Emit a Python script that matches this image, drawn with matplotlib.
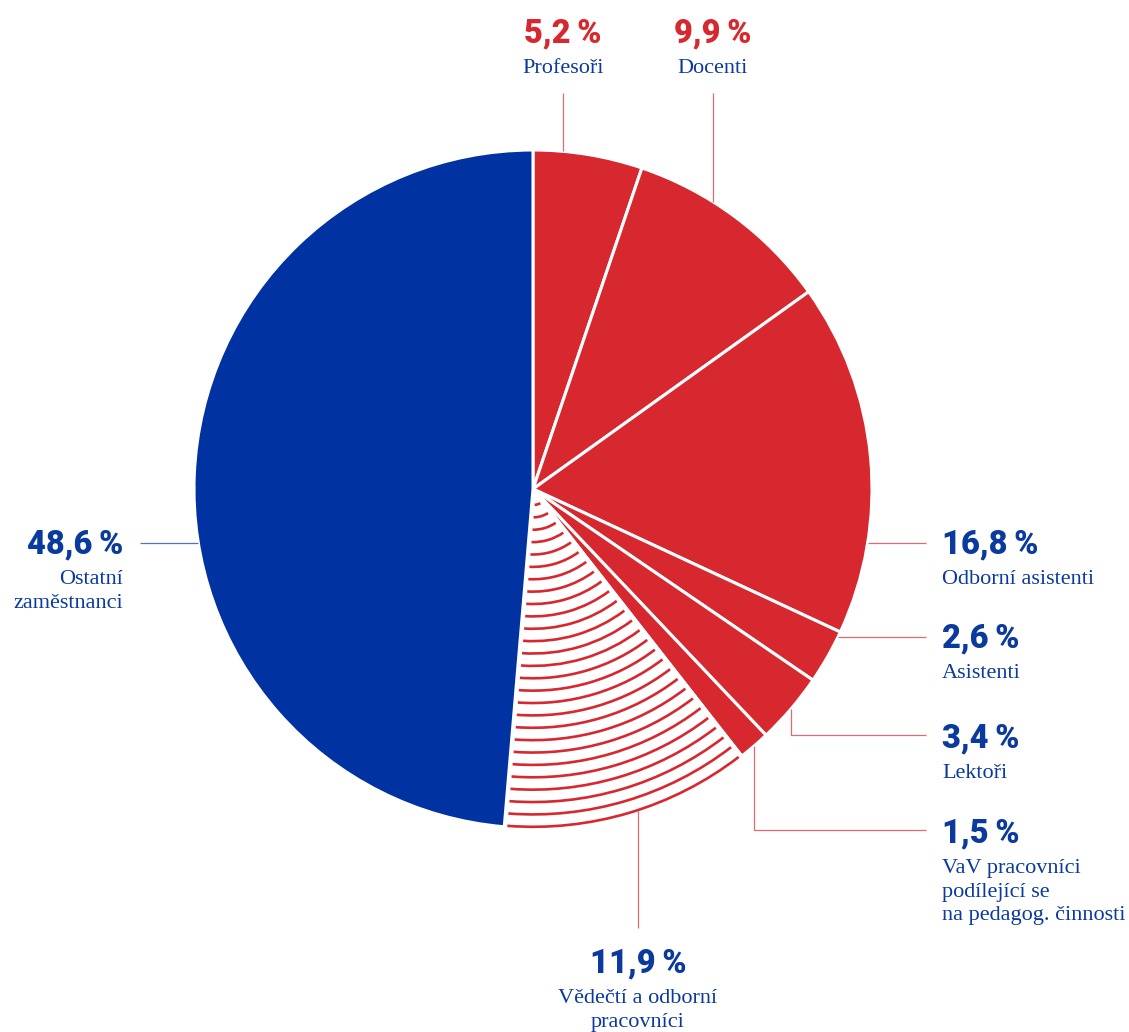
import numpy as np
import matplotlib.pyplot as plt
from matplotlib.patches import Arc

# data
categories = ['Profesoři', 'Docenti', 'Odborní asistenti', 'Asistenti', 'Lektoři',
              'VaV pracovníci\npodílející se\nna pedagog. činnosti',
              'Vědečtí a odborní\npracovníci', 'Ostatní\nzaměstnanci']
shares = [5.2, 9.9, 16.8, 2.6, 3.4, 1.5, 11.9, 48.6]
slice_kind = ['red', 'red', 'red', 'red', 'red', 'red', 'hatch', 'blue']
pct_color = ['red', 'red', 'blue', 'blue', 'blue', 'blue', 'blue', 'blue']

RED = '#D7282F'
BLUE = '#0033A1'
TXT_BLUE = '#0B3A9E'
LINE_RED = '#E36870'
LINE_BLUE = '#5373C2'

W, H = 1129, 1032
CX, CY, R = 533, H - 489, 339


def py(y):
    return H - y


fig = plt.figure(figsize=(W / 100, H / 100), dpi=100)
ax = fig.add_axes([0, 0, 1, 1])

fills = {'red': RED, 'blue': BLUE, 'hatch': 'white'}
wedges, _ = ax.pie(shares, colors=[fills[k] for k in slice_kind], startangle=90,
                   counterclock=False, center=(CX, CY), radius=R,
                   wedgeprops=dict(edgecolor='white', linewidth=2.2))

# concentric-arc fill of the hatched slice
hw = wedges[slice_kind.index('hatch')]
for rk in np.linspace(R - 1.2, 16, 27):
    gap = np.degrees(3.0 / rk)
    if hw.theta2 - hw.theta1 - 2 * gap <= 0:
        continue
    ax.add_patch(Arc((CX, CY), 2 * rk, 2 * rk, theta1=hw.theta1 + gap,
                     theta2=hw.theta2 - gap, color=RED, lw=1.9))

ax.set_xlim(0, W)
ax.set_ylim(0, H)
ax.set_aspect('equal')
ax.axis('off')


def fmt(v):
    return '{:.1f}'.format(v).replace('.', ',') + '\u2009%'


def circle_y(x, lower=False):
    d = np.sqrt(R ** 2 - (x - CX) ** 2)
    return CY - d if lower else CY + d


def circle_x(y, left=False):
    d = np.sqrt(R ** 2 - (y - CY) ** 2)
    return CX - d if left else CX + d


def mid_angle(w):
    return np.radians((w.theta1 + w.theta2) / 2)


def put_label(i, x, base, ha):
    col = RED if pct_color[i] == 'red' else TXT_BLUE
    ax.text(x, py(base), fmt(shares[i]), ha=ha, va='baseline', color=col,
            fontsize=23.5, fontweight='heavy', family=['Roboto', 'DejaVu Sans'])
    for k, line in enumerate(categories[i].split('\n')):
        ax.text(x, py(base + 31 + k * 23.5), line, ha=ha, va='baseline',
                color=TXT_BLUE, fontsize=16, family='Liberation Serif')


lkw = dict(lw=0.9, solid_capstyle='butt')

# top labels
for i, x in [(0, 563), (1, 713)]:
    ax.plot([x, x], [py(93), circle_y(x)], color=LINE_RED, **lkw)
    put_label(i, x, 42, 'center')

# right labels with straight leaders
for i, y in [(2, 543), (3, 637)]:
    ax.plot([circle_x(py(y)), 926], [py(y), py(y)], color=LINE_RED, **lkw)
    put_label(i, 942, y + 10, 'left')

# right labels with elbow leaders
for i, y in [(4, 735), (5, 830)]:
    a = mid_angle(wedges[i])
    x0, y0 = CX + R * np.cos(a), CY + R * np.sin(a)
    ax.plot([x0, x0, 926], [y0, py(y), py(y)], color=LINE_RED, **lkw)
    put_label(i, 942, y + 12, 'left')

# bottom label
ax.plot([638, 638], [circle_y(638, lower=True), py(928)], color=LINE_RED, **lkw)
put_label(6, 638, 972, 'center')

# left label
ax.plot([140, circle_x(py(543), left=True)], [py(543), py(543)], color=LINE_BLUE, **lkw)
put_label(7, 123, 553, 'right')

fig.savefig('out.png', dpi=100)
